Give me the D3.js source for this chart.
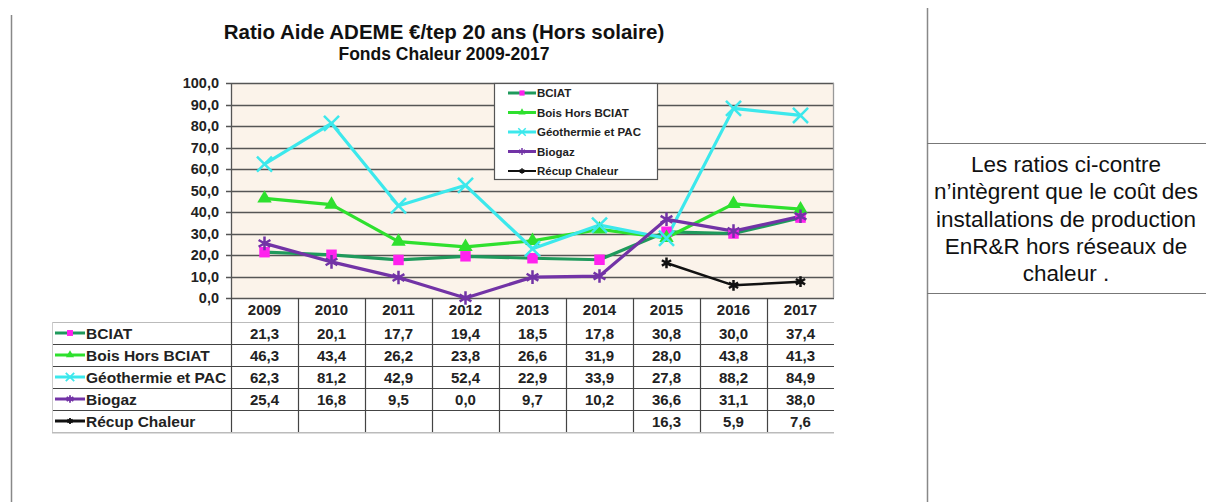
<!DOCTYPE html>
<html>
<head>
<meta charset="utf-8">
<script src="https://cdn.jsdelivr.net/npm/d3@7"></script>
<style>
  body { margin: 0; background: #fff; }
  svg { display: block; }
  text { font-family: Arial, "Liberation Sans", sans-serif; }
</style>
</head>
<body>
<script>
// Données
var annees = ["2009", "2010", "2011", "2012", "2013", "2014", "2015", "2016", "2017"]
var bciat = [21.3, 20.1, 17.7, 19.4, 18.5, 17.8, 30.8, 30.0, 37.4]
var boisHorsBciat = [46.3, 43.4, 26.2, 23.8, 26.6, 31.9, 28.0, 43.8, 41.3]
var geothermie = [62.3, 81.2, 42.9, 52.4, 22.9, 33.9, 27.8, 88.2, 84.9]
var biogaz = [25.4, 16.8, 9.5, 0.0, 9.7, 10.2, 36.6, 31.1, 38.0]
var recupChaleur = [null, null, null, null, null, null, 16.3, 5.9, 7.6]
var yTicks = [0, 10, 20, 30, 40, 50, 60, 70, 80, 90, 100]

var series = [
    {nom: "BCIAT", valeurs: bciat, ligne: "#1f9a5c", marque: "#ff22ee", symbole: d3.symbolSquare, taille: 110, plein: true},
    {nom: "Bois Hors BCIAT", valeurs: boisHorsBciat, ligne: "#2ee02e", marque: "#2ee02e", symbole: d3.symbolTriangle, taille: 90, plein: true},
    {nom: "Géothermie et PAC", valeurs: geothermie, ligne: "#3ce8ec", marque: "#3ce8ec", symbole: d3.symbolTimes, taille: 150, plein: false},
    {nom: "Biogaz", valeurs: biogaz, ligne: "#7233a6", marque: "#7233a6", symbole: d3.symbolAsterisk, taille: 130, plein: false},
    {nom: "Récup Chaleur", valeurs: recupChaleur, ligne: "#111", marque: "#111", symbole: d3.symbolAsterisk, taille: 80, plein: false}
]

var W = 1206, H = 502
var svg = d3.select("body").append("svg").attr("width", W).attr("height", H)

// Cadre de la page
svg.append("line").attr("x1", 11.5).attr("x2", 11.5).attr("y1", 15).attr("y2", H).attr("stroke", "#888").attr("stroke-width", 1.5)
svg.append("line").attr("x1", 927.5).attr("x2", 927.5).attr("y1", 8).attr("y2", H).attr("stroke", "#888").attr("stroke-width", 1.5)
svg.append("line").attr("x1", 927).attr("x2", W).attr("y1", 143.5).attr("y2", 143.5).attr("stroke", "#777").attr("stroke-width", 1.2)
svg.append("line").attr("x1", 927).attr("x2", W).attr("y1", 293.5).attr("y2", 293.5).attr("stroke", "#777").attr("stroke-width", 1.2)

// Texte de droite
var note = ["Les ratios ci-contre", "n\u2019intègrent que le coût des", "installations de production", "EnR&R hors réseaux de", "chaleur ."]
svg.append("g").selectAll("text").data(note).enter().append("text")
    .attr("x", 1066).attr("y", (d, i) => 172 + i * 27.3)
    .attr("text-anchor", "middle").attr("font-size", 22.5).attr("fill", "#111")
    .text(d => d)

// Titres
svg.append("text").attr("x", 444).attr("y", 39).attr("text-anchor", "middle")
    .attr("font-size", 20.5).attr("font-weight", "bold").attr("fill", "#111").text("Ratio Aide ADEME €/tep 20 ans (Hors solaire)")
svg.append("text").attr("x", 444).attr("y", 60).attr("text-anchor", "middle")
    .attr("font-size", 17.5).attr("font-weight", "bold").attr("fill", "#111").text("Fonds Chaleur 2009-2017")

// Echelles
var x = d3.scaleBand().domain(annees).range([231, 834])
var y = d3.scaleLinear().domain([0, 100]).range([298, 83])

// Zone du graphique
svg.append("rect").attr("x", 231).attr("y", 83).attr("width", 603).attr("height", 215).attr("fill", "#fbf3ea")

svg.append("g").selectAll("line").data(yTicks).enter().append("line")
    .attr("x1", 226).attr("x2", 834)
    .attr("y1", d => Math.round(y(d)) + 0.5).attr("y2", d => Math.round(y(d)) + 0.5)
    .attr("stroke", "#555").attr("stroke-width", 1.3)

svg.append("line").attr("x1", 231.5).attr("x2", 231.5).attr("y1", 83).attr("y2", 298).attr("stroke", "#555").attr("stroke-width", 1.3)
svg.append("line").attr("x1", 833.5).attr("x2", 833.5).attr("y1", 83).attr("y2", 298).attr("stroke", "#999").attr("stroke-width", 1.3)

svg.append("g").selectAll("text").data(yTicks).enter().append("text")
    .attr("x", 219).attr("y", d => y(d) + 5).attr("text-anchor", "end")
    .attr("font-size", 14.5).attr("font-weight", "bold").attr("fill", "#222")
    .text(d => d.toFixed(1).replace(".", ","))

// Lignes des séries
var ligne = d3.line()
    .defined(d => d != null)
    .x((d, i) => x(annees[i]) + x.bandwidth() / 2)
    .y(d => y(d))

series.forEach(function(s) {
    svg.append("path").datum(s.valeurs)
        .attr("d", ligne).attr("fill", "none")
        .attr("stroke", s.ligne).attr("stroke-width", s.nom == "Récup Chaleur" ? 2.5 : 3.2)
        .attr("stroke-linejoin", "round")
})

series.forEach(function(s) {
    var pts = s.valeurs.map((v, i) => ({v: v, an: annees[i]})).filter(d => d.v != null)
    svg.append("g").selectAll("path").data(pts).enter().append("path")
        .attr("transform", d => "translate(" + (x(d.an) + x.bandwidth() / 2) + "," + y(d.v) + ")")
        .attr("d", d3.symbol().type(s.symbole).size(s.taille))
        .attr("fill", s.plein ? s.marque : "none")
        .attr("stroke", s.marque).attr("stroke-width", s.plein ? 0 : 2.5)
})

// Légende
var leg = svg.append("g")
leg.append("rect").attr("x", 494.5).attr("y", 83.5).attr("width", 163).attr("height", 96)
    .attr("fill", "#fff").attr("stroke", "#555").attr("stroke-width", 1.2)
series.forEach(function(s, i) {
    var ly = 93 + i * 19.5
    leg.append("line").attr("x1", 508).attr("x2", 536).attr("y1", ly).attr("y2", ly)
        .attr("stroke", s.ligne).attr("stroke-width", s.nom == "Récup Chaleur" ? 2 : 3)
    leg.append("path").attr("transform", "translate(522," + ly + ")")
        .attr("d", d3.symbol().type(s.symbole).size(s.taille * 0.25))
        .attr("fill", s.plein ? s.marque : "none").attr("stroke", s.marque).attr("stroke-width", s.plein ? 0 : 1.5)
    leg.append("text").attr("x", 537).attr("y", ly + 4).attr("font-size", 11.5).attr("font-weight", "bold")
        .attr("fill", "#222").text(s.nom)
})

// Tableau des données
var tab = svg.append("g")
var rowH = 22, tabTop = 322
tab.append("rect").attr("x", 52).attr("y", tabTop + 5 * rowH).attr("width", 782).attr("height", 2).attr("fill", "#ddd")
tab.selectAll("text.an").data(annees).enter().append("text")
    .attr("x", d => x(d) + x.bandwidth() / 2).attr("y", 315)
    .attr("text-anchor", "middle").attr("font-size", 15).attr("font-weight", "bold").attr("fill", "#222")
    .text(d => d)

d3.range(6).forEach(function(i) {
    tab.append("line").attr("x1", 52).attr("x2", 834).attr("y1", tabTop + i * rowH + 0.5).attr("y2", tabTop + i * rowH + 0.5)
        .attr("stroke", i == 0 || i == 5 ? "#bbb" : "#444").attr("stroke-width", 1.2)
})
tab.append("line").attr("x1", 52.5).attr("x2", 52.5).attr("y1", tabTop).attr("y2", tabTop + 5 * rowH).attr("stroke", "#ccc")
annees.forEach(function(a) {
    tab.append("line").attr("x1", x(a) + 0.5).attr("x2", x(a) + 0.5).attr("y1", 298).attr("y2", tabTop + 5 * rowH)
        .attr("stroke", "#444").attr("stroke-width", 1.2)
})

series.forEach(function(s, i) {
    var ry = tabTop + i * rowH + rowH / 2
    tab.append("line").attr("x1", 55).attr("x2", 85).attr("y1", ry).attr("y2", ry)
        .attr("stroke", s.ligne).attr("stroke-width", 3)
    tab.append("path").attr("transform", "translate(70," + ry + ")")
        .attr("d", d3.symbol().type(s.symbole).size(s.taille * 0.32))
        .attr("fill", s.plein ? s.marque : "none").attr("stroke", s.marque).attr("stroke-width", s.plein ? 0 : 1.8)
    tab.append("text").attr("x", 86).attr("y", ry + 5.5).attr("font-size", 15.5).attr("font-weight", "bold")
        .attr("fill", "#222").text(s.nom)
    tab.selectAll(null).data(s.valeurs.map((v, j) => ({v: v, an: annees[j]})).filter(d => d.v != null))
        .enter().append("text")
        .attr("x", d => x(d.an) + x.bandwidth() / 2).attr("y", ry + 5.5)
        .attr("text-anchor", "middle").attr("font-size", 15).attr("font-weight", "bold").attr("fill", "#222")
        .text(d => d.v.toFixed(1).replace(".", ","))
})
</script>
</body>
</html>
